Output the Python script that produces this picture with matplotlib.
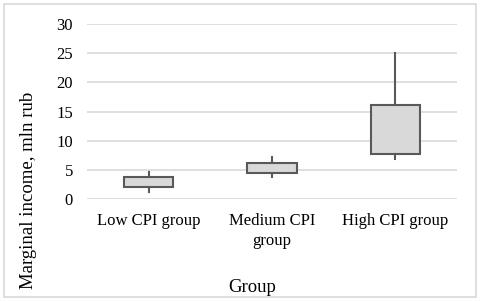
import numpy as np
import matplotlib.pyplot as plt
from matplotlib.patches import Rectangle

# values (mln rub)
groups = ['Low CPI group', 'Medium CPI\ngroup', 'High CPI group']
whisker_low = [1.15, 3.7, 6.8]
box_low = [2.0, 4.45, 7.8]
box_high = [3.7, 6.1, 16.05]
whisker_high = [4.7, 7.15, 25.0]
y_ticks = [0, 5, 10, 15, 20, 25, 30]

plt.rcParams['font.family'] = ['Liberation Serif', 'DejaVu Serif']

fig = plt.figure(figsize=(4.8, 3.02), dpi=100)
fig.patches.append(Rectangle((0.009, 0.016), 0.983, 0.972, transform=fig.transFigure,
                             fill=False, edgecolor='#d9d9d9', linewidth=1.2))

ax = fig.add_axes([0.181, 0.341, 0.771, 0.5795])

stats = []
for i in range(len(groups)):
    stats.append({'whislo': whisker_low[i], 'q1': box_low[i],
                  'med': box_low[i], 'q3': box_high[i],
                  'whishi': whisker_high[i], 'fliers': []})

ax.bxp(stats, positions=np.arange(1, len(groups) + 1), widths=0.4,
       patch_artist=True, showcaps=False,
       boxprops=dict(facecolor='#d9d9d9', edgecolor='#595959', linewidth=1.5),
       whiskerprops=dict(color='#595959', linewidth=1.5),
       medianprops=dict(linewidth=0), zorder=3)

ax.set_xlim(0.5, 3.5)
ax.set_ylim(0, 30)
ax.set_yticks(y_ticks)
ax.set_xticks(np.arange(1, len(groups) + 1))
ax.set_xticklabels(groups, linespacing=1.3)
ax.yaxis.grid(True, color='#d9d9d9', linewidth=1.2)
ax.set_axisbelow(True)
for s in ax.spines.values():
    s.set_visible(False)
ax.tick_params(axis='both', length=0, labelsize=12)
ax.tick_params(axis='y', pad=10)
ax.tick_params(axis='x', pad=10)

# axis titles placed like the Excel layout
fig.text(252 / 480, 1 - 287 / 302, 'Group', fontsize=13.5, ha='center', va='center')
fig.text(29 / 480, 1 - 190 / 302, 'Marginal income, mln rub', fontsize=13.5,
         rotation=90, ha='center', va='center')

plt.savefig('out.png', dpi=100)
